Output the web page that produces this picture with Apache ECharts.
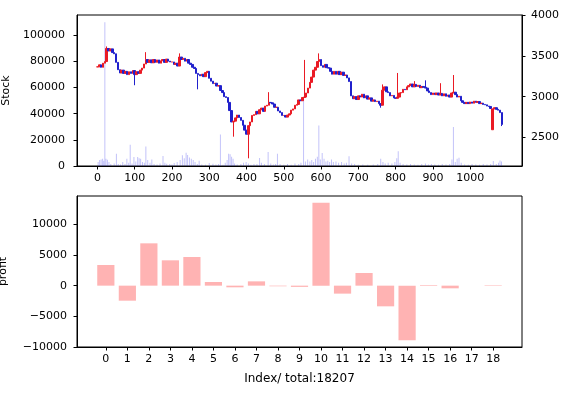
<!DOCTYPE html>
<html>
<head>
<meta charset="utf-8">
<script src="https://cdn.jsdelivr.net/npm/echarts@6/dist/echarts.min.js"></script>
<style>html,body{margin:0;padding:0;background:#fff}#c{width:577px;height:393px}</style>
</head>
<body>
<div id="c"></div>
<script>
// ---- data ----
const candleStep = 5; // index spacing of the sampled candles
const closes = [
 3365,3390,3360,3410,3430,3590,3560,3585,3540,3525,
 3420,3330,3290,3325,3285,3310,3270,3305,3285,3320,
 3270,3305,3285,3325,3350,3400,3455,3420,3450,3415,
 3455,3420,3450,3410,3440,3455,3420,3460,3435,3425,
 3425,3395,3410,3375,3485,3455,3470,3435,3455,3410,
 3395,3360,3345,3285,3270,3255,3275,3245,3295,3310,
 3225,3190,3160,3165,3130,3135,3075,3050,3000,2990,
 2930,2830,2690,2700,2740,2775,2745,2710,2650,2590,
 2540,2645,2690,2770,2780,2820,2790,2840,2860,2820,
 2885,2895,2930,2925,2910,2870,2870,2825,2805,2770,
 2770,2750,2775,2790,2835,2850,2895,2905,2960,2950,
 2990,2995,3045,3105,3175,3240,3325,3360,3430,3455,
 3380,3360,3395,3355,3350,3310,3275,3310,3275,3310,
 3270,3300,3260,3265,3230,3185,3010,2975,3000,2965,
 3010,2995,3030,2985,3010,2970,2985,2945,2960,2940,
 2945,2915,2895,3080,3120,3060,3050,3010,3015,2985,
 2980,2995,3045,3050,3090,3085,3120,3135,3155,3120,
 3150,3125,3140,3110,3125,3115,3105,3070,3050,3025,
 3045,3025,3045,3020,3040,3010,3035,3005,3020,2995,
 3045,3055,3025,2995,3005,2950,2930,2915,2930,2915,
 2935,2920,2945,2930,2940,2915,2920,2905,2900,2885,
 2880,2855,2850,2865,2845,2835,2805,2660
];
const openOverrides = [[1060, 2595]];
const wickHighs = [[25,3615],[130,3545],[220,3530],[460,3055],[555,3450],[595,3530],[765,3150],[805,3290],[850,3190],[880,3200],[920,3165],[955,3265]];
const wickLows = [[100,3140],[270,3090],[365,2510],[405,2245],[760,2865],[1085,2640]];

const volumes = [
 [2,3000],[6,4500],[10,5000],[14,5500],[17,4000],[20,110000],[23,5500],[27,4800],[31,3000],[36,1500],
 [45,2000],[51,9400],[56,1500],[62,1200],[68,3000],[74,1500],[79,5600],[84,2500],[88,16300],[93,2000],
 [98,6900],[103,3500],[108,6800],[112,6000],[116,5500],[121,3000],[126,2500],[130,15000],[135,4500],[141,2500],
 [146,5000],[152,1500],[160,1200],[168,2000],[176,7600],[181,2500],[186,1800],[194,1500],[200,1200],[206,2200],
 [214,3000],[222,4500],[228,8200],[233,6000],[238,10200],[242,8500],[247,6500],[252,5500],[257,4500],[262,3000],
 [268,1500],[273,4000],[280,1200],[290,1000],[300,2200],[310,1800],[318,1200],[325,1500],[330,24000],[337,1000],
 [343,2500],[348,4500],[352,9400],[356,9000],[360,7000],[364,5500],[368,2000],[375,1200],[385,1500],[392,2500],
 [399,3000],[405,2000],[412,1000],[420,1500],[428,1500],[435,6100],[440,2500],[448,1500],[458,10700],[465,2000],
 [472,1200],[478,1500],[483,9400],[490,1500],[500,1000],[510,1500],[520,1000],[530,2000],[540,1500],[546,2500],
 [553,52000],[558,3500],[564,5000],[570,3500],[575,4500],[580,3000],[585,5500],[590,7000],[594,31000],[598,5000],
 [603,10000],[608,5500],[613,3500],[618,4000],[623,3000],[628,5000],[633,3000],[640,3500],[647,2500],[655,3000],
 [662,2000],[668,2500],[675,7400],[682,2000],[690,1500],[700,1000],[712,1200],[725,1000],[740,1200],[752,1500],
 [760,5600],[766,3000],[772,2000],[780,2500],[790,2000],[798,3000],[803,6000],[807,11200],[812,2500],[820,1500],
 [830,1200],[840,1500],[850,1200],[860,1000],[870,1500],[880,2000],[888,1200],[896,1500],[905,1200],[915,1000],
 [925,1500],[935,1200],[945,1500],[951,5000],[955,29800],[960,3000],[965,5500],[970,6400],[976,2500],[985,1200],
 [995,1000],[1005,1500],[1015,1200],[1025,1000],[1035,1500],[1045,1200],[1055,1500],[1062,3800],[1070,1500],[1076,2500],
 [1080,4300],[1084,3500]
];

const profitCats = [0,1,2,3,4,5,6,7,8,9,10,11,12,13,14,15,16,17,18];
const profits = [3370,-2450,6900,4130,4670,600,-270,700,-100,-200,13500,-1300,2065,-3370,-8880,100,-435,0,80];

const topXTicks = [0,100,200,300,400,500,600,700,800,900,1000];
const stockTicks = [0,20000,40000,60000,80000,100000];
const priceTicks = [2500,3000,3500,4000];
const profitTicks = [-10000,-5000,0,5000,10000];
const xLabel = 'Index/ total:18207';

// ---- build ----
const ovr = new Map(openOverrides);
const hiMap = new Map(wickHighs);
const loMap = new Map(wickLows);
const candleData = closes.map((c, i) => {
  const x = i * candleStep;
  const o = ovr.has(x) ? ovr.get(x) : (i ? closes[i - 1] : c);
  let lo = Math.min(o, c), hi = Math.max(o, c);
  if (hiMap.has(x)) hi = Math.max(hi, hiMap.get(x));
  if (loMap.has(x)) lo = Math.min(lo, loMap.get(x));
  return [x, o, c, lo, hi];
});
const profitData = profitCats.map((c, i) => [c, profits[i]]);

const FONT = 'DejaVu Sans';
const plain = v => String(v).replace('-', '\u2212');
const lab = (vals, extra) => Object.assign({customValues: vals, fontFamily: FONT, fontSize: 11, color: '#000', formatter: plain}, extra || {});
const tick = (vals) => ({show: true, customValues: vals, length: 3.5, lineStyle: {color: '#000'}});
const line = {show: true, onZero: false, lineStyle: {color: '#000', width: 1}};
const nameStyle = {fontFamily: FONT, fontSize: 11, color: '#000'};

const chart = echarts.init(document.getElementById('c'), null, {renderer: 'canvas'});
chart.setOption({
  animation: false,
  backgroundColor: '#fff',
  grid: [
    {left: 77, top: 15, width: 445, height: 151, show: true, borderColor: '#000', borderWidth: 1,
     backgroundColor: 'transparent', containLabel: false, outerBoundsMode: 'none'},
    {left: 77, top: 196, width: 445, height: 151, show: true, borderColor: '#000', borderWidth: 1,
     backgroundColor: 'transparent', containLabel: false, outerBoundsMode: 'none'}
  ],
  xAxis: [
    {type: 'value', gridIndex: 0, min: -54.7, max: 1139, axisLine: line, axisTick: tick(topXTicks),
     axisLabel: lab(topXTicks, {margin: 7}), splitLine: {show: false}},
    {type: 'value', gridIndex: 1, min: -1.34, max: 19.34, axisLine: line, axisTick: tick(profitCats),
     axisLabel: lab(profitCats, {margin: 7}), splitLine: {show: false},
     name: xLabel, nameLocation: 'middle', nameGap: 26, nameTextStyle: {fontFamily: FONT, fontSize: 12, color: '#000'}}
  ],
  yAxis: [
    {type: 'value', gridIndex: 0, min: 0, max: 115500, axisLine: line, axisTick: tick(stockTicks),
     axisLabel: lab(stockTicks, {margin: 12}), splitLine: {show: false},
     name: 'Stock', nameLocation: 'middle', nameRotate: 90, nameGap: 64, nameTextStyle: nameStyle},
    {type: 'value', gridIndex: 0, position: 'right', min: 2151, max: 4000, axisLine: line, axisTick: tick(priceTicks),
     axisLabel: lab(priceTicks, {margin: 9}), splitLine: {show: false}},
    {type: 'value', gridIndex: 1, min: -10000, max: 14615, axisLine: line, axisTick: tick(profitTicks),
     axisLabel: lab(profitTicks, {margin: 10}), splitLine: {show: false},
     name: 'profit', nameLocation: 'middle', nameRotate: 90, nameGap: 68, nameTextStyle: nameStyle}
  ],
  series: [
    {type: 'bar', xAxisIndex: 0, yAxisIndex: 0, data: volumes, barWidth: 1, z: 1,
     itemStyle: {color: 'rgba(40,40,235,0.28)'}},
    {type: 'candlestick', xAxisIndex: 0, yAxisIndex: 1, data: candleData, encode: {x: 0, y: [1, 2, 3, 4]},
     barWidth: 2, z: 3,
     itemStyle: {color: '#ea1a24', color0: '#2020cc', borderColor: '#ea1a24', borderColor0: '#2020cc', borderWidth: 1}},
    {type: 'bar', xAxisIndex: 1, yAxisIndex: 2, data: profitData, barWidth: 17.2,
     itemStyle: {color: '#ffb3b3'}}
  ]
});
</script>
</body>
</html>
